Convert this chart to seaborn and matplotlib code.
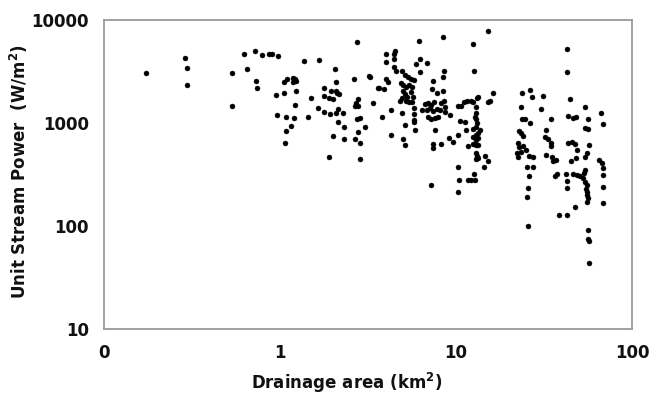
import matplotlib
matplotlib.use("Agg")
import matplotlib.pyplot as plt
import seaborn as sns
import pandas as pd

# Drainage area (km2) and unit stream power (W/m2)
area = [
    0.173, 0.289, 0.296, 0.296, 0.533, 0.533, 0.624, 0.649,
    0.721, 0.790, 0.866, 0.901, 0.974, 0.731, 0.740, 0.949, 1.05, 1.23, 1.05, 1.10,
    1.19, 1.22, 1.19, 1.23, 1.22, 0.962, 1.08, 1.20, 1.15, 1.08, 1.07,
    1.37, 1.67, 2.74, 2.05, 2.08, 1.44, 1.50, 1.64, 1.78, 1.92, 2.08, 2.28, 2.14,
    2.31, 2.00, 2.31, 2.67, 2.85, 1.90, 2.85, 1.78, 1.95, 1.78, 1.90, 2.00, 2.08,
    2.11, 2.16, 2.63, 3.20, 3.60, 2.70, 2.77, 2.67, 2.77, 3.38, 2.85, 2.74, 3.04,
    2.77, 2.14,
    6.16, 8.44, 3.25, 4.00, 4.50, 4.44, 4.00, 4.44, 4.44, 4.56, 5.93, 6.24, 6.84,
    6.24, 8.55, 8.44, 7.40, 4.00, 4.11, 4.93, 5.13, 5.34, 5.55, 5.77, 4.87, 5.00,
    5.20, 3.65, 3.90, 5.41, 5.62, 5.55, 5.70, 5.00, 5.13, 5.27, 4.93, 5.62, 5.41,
    5.20, 4.81, 7.30, 7.80, 8.44, 3.80, 4.27, 4.93, 5.13, 4.27, 5.00, 5.13, 5.77,
    5.77, 5.77, 5.77, 5.85, 6.41, 6.67, 6.93, 7.21, 7.50, 6.84, 7.11, 7.40, 7.80,
    8.11, 6.93, 7.21, 7.60, 7.90, 8.22, 8.55, 8.66, 8.66, 9.24, 7.60, 8.22, 7.40,
    7.40, 9.12, 9.61, 7.21,
    15.2, 12.5, 12.7, 16.2, 15.6, 13.3, 10.3, 10.3, 10.7, 11.1, 11.5, 12.2, 13.2,
    13.0, 12.5, 13.0, 12.8, 13.0, 13.2, 13.0, 10.5, 11.2, 11.4, 12.5, 13.7, 12.5,
    13.0, 13.3, 13.0, 13.3, 11.7, 12.5, 13.0, 13.3, 13.0, 13.3, 13.0, 13.2, 14.6,
    15.2, 14.4, 10.3, 12.7, 10.4, 11.7, 12.2, 12.8, 10.3, 15.2,
    23.7, 26.3, 27.0, 31.2, 23.4, 30.4, 23.7, 24.7, 26.3, 34.6, 22.8, 23.4, 24.0,
    32.5, 32.0, 33.3, 34.6, 34.6, 22.5, 22.8, 24.0, 25.0, 22.2, 23.4, 22.5, 26.0,
    27.4, 25.3, 27.4, 26.0, 25.6, 25.3, 25.6, 32.5, 35.1, 35.6, 37.0, 36.5, 37.5,
    38.5, 42.7,
    42.7, 42.7, 44.4, 43.3, 46.2, 48.1, 54.1, 56.2, 54.1, 56.2, 66.7, 68.4, 43.3,
    45.6, 47.4, 48.7, 57.0, 55.5, 54.1, 45.0, 48.1, 64.9, 67.6, 68.4, 68.4, 68.4,
    68.4, 42.2, 46.2, 48.7, 42.7, 42.7, 54.1, 50.7, 52.7, 54.1, 55.5, 54.8, 55.5,
    55.5, 56.2, 55.5, 47.4, 56.2, 56.2, 57.0, 57.0, 53.4,
]
power = [
    3060, 4270, 3420, 2340, 3060, 1460, 4680, 3340,
    5000, 4570, 4680, 4680, 4470, 2560, 2190, 1870, 1960, 2050, 2500, 2670,
    2730, 2670, 2500, 2560, 1500, 1200, 1140, 1120, 935, 836, 640,
    4000, 4090, 6110, 3340, 2500, 1140, 1750, 1400, 1280, 1220, 1250, 1250, 1020,
    915, 748, 699, 699, 640, 468, 447, 2190, 2050, 1830, 1750, 1710, 2050,
    1960, 1910, 2670, 2860, 2190, 1560, 1460, 1460, 1710, 1560, 1120, 1090, 915,
    818, 1370,
    6250, 6840, 2800, 4680, 5000, 4680, 3910, 4180, 3500, 3200, 3740, 4180, 3830,
    3130, 3200, 2800, 2560, 2670, 2500, 3200, 2920, 2800, 2670, 2610, 2440, 2340,
    2240, 2190, 2140, 2340, 2240, 2000, 1790, 2050, 1910, 1790, 1750, 1600, 1600,
    1640, 1640, 2140, 1960, 2050, 1140, 1340, 1250, 956, 764, 699, 612, 1400,
    1220, 1070, 1020, 855, 1340, 1530, 1560, 1500, 1600, 1340, 1400, 1310, 1370,
    1340, 1140, 1090, 1120, 1140, 1560, 1640, 1430, 1280, 1200, 855, 626, 626,
    572, 715, 654, 250,
    7820, 5850, 3200, 1960, 1640, 1790, 764, 1460, 1460, 1600, 1640, 1640, 1750,
    1430, 1600, 1250, 1140, 1090, 1000, 915, 1050, 1020, 855, 874, 855, 731,
    764, 800, 684, 715, 598, 626, 612, 612, 512, 457, 447, 478, 478,
    428, 374, 374, 320, 280, 280, 280, 280, 214, 1600,
    1960, 2090, 1790, 1830, 1430, 1370, 1090, 1090, 1000, 1090, 836, 800, 748,
    855, 731, 699, 640, 598, 640, 585, 598, 547, 512, 523, 468, 478,
    468, 374, 374, 306, 234, 191, 100, 489, 468, 428, 437, 306, 320,
    128, 128,
    5230, 3130, 1710, 1170, 1120, 1140, 1430, 1090, 894, 874, 1250, 978, 640,
    654, 626, 547, 612, 512, 468, 428, 457, 437, 409, 366, 313, 239,
    167, 320, 320, 313, 273, 234, 350, 306, 292, 267, 250, 229, 214,
    200, 187, 171, 153, 91.4, 74.8, 71.5, 43.7, 327,
]

x_ticks = [0.1, 1, 10, 100]
x_tick_labels = ["0", "1", "10", "100"]
y_ticks = [10, 100, 1000, 10000]
y_tick_labels = ["10", "100", "1000", "10000"]

df = pd.DataFrame({"area": area, "power": power})

sns.set_style("white")
plt.rcParams["font.family"] = ["DejaVu Sans"]

fig = plt.figure(figsize=(6.5, 3.96), dpi=100)
ax = fig.add_axes([0.16, 0.1692, 0.8123, 0.7803])

sns.scatterplot(data=df, x="area", y="power", ax=ax, color="black",
                s=13, edgecolor="black", linewidth=0.3, legend=False)

ax.set_xscale("log")
ax.set_yscale("log")
ax.set_xlim(0.1, 100)
ax.set_ylim(10, 10000)
ax.set_xticks(x_ticks)
ax.set_xticklabels(x_tick_labels)
ax.set_yticks(y_ticks)
ax.set_yticklabels(y_tick_labels)
ax.minorticks_off()

for sp in ax.spines.values():
    sp.set_color("#9a9a9a")
    sp.set_linewidth(1.3)
    sp.set_visible(True)

ax.tick_params(axis="both", which="major", direction="out", length=4,
               width=1.1, color="#9a9a9a", labelsize=12, pad=7)
for lbl in ax.get_xticklabels() + ax.get_yticklabels():
    lbl.set_fontweight("bold")
    lbl.set_color("#111111")

ax.set_xlabel("Drainage area (km$^\\mathbf{2}$)", fontsize=12, fontweight="bold",
              color="#111111")
ax.xaxis.set_label_coords(0.46, -0.135)
ax.set_ylabel("Unit Stream Power  (W/m$^\\mathbf{2}$)", fontsize=12,
              fontweight="bold", color="#111111")
ax.yaxis.set_label_coords(-0.14, 0.51)

fig.savefig("out.png", dpi=100)
